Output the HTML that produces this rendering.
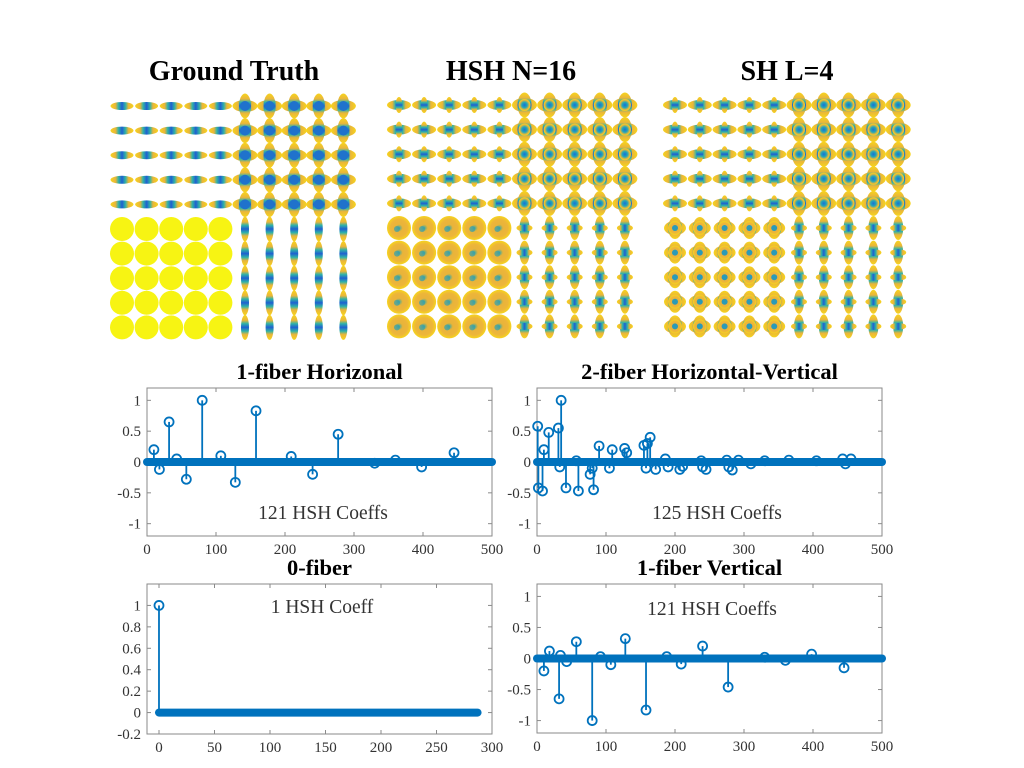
<!DOCTYPE html>
<html><head><meta charset="utf-8"><style>
html,body{margin:0;padding:0;background:#fff;width:1024px;height:768px;overflow:hidden}
svg{display:block}
text{font-family:"Liberation Serif",serif}
</style></head><body>
<svg id="fig" width="1024" height="768" viewBox="0 0 1024 768">
<defs>
<linearGradient id="gh" x1="0" y1="0" x2="1" y2="0"><stop offset="0" stop-color="#f7d51c"/><stop offset="0.22" stop-color="#e9b53a"/><stop offset="0.35" stop-color="#2fb3a8"/><stop offset="0.5" stop-color="#1f5fd0"/><stop offset="0.65" stop-color="#2fb3a8"/><stop offset="0.78" stop-color="#e9b53a"/><stop offset="1" stop-color="#f7d51c"/></linearGradient>
<linearGradient id="gv" x1="0" y1="0" x2="0" y2="1"><stop offset="0" stop-color="#f7d51c"/><stop offset="0.22" stop-color="#e9b53a"/><stop offset="0.35" stop-color="#2fb3a8"/><stop offset="0.5" stop-color="#1f5fd0"/><stop offset="0.65" stop-color="#2fb3a8"/><stop offset="0.78" stop-color="#e9b53a"/><stop offset="1" stop-color="#f7d51c"/></linearGradient>
<radialGradient id="gc"><stop offset="0" stop-color="#1a6fd6"/><stop offset="0.45" stop-color="#22a7b8"/><stop offset="0.8" stop-color="#e6b83a"/><stop offset="1" stop-color="#f7d51c"/></radialGradient>
<radialGradient id="gb"><stop offset="0" stop-color="#3aa8a0"/><stop offset="0.3" stop-color="#e8b43a"/><stop offset="0.7" stop-color="#edb53a"/><stop offset="1" stop-color="#f6d41e"/></radialGradient>
</defs>
<text x="234" y="80" text-anchor="middle" font-size="28" font-weight="bold">Ground Truth</text>
<text x="511" y="80" text-anchor="middle" font-size="28" font-weight="bold">HSH N=16</text>
<text x="787" y="80" text-anchor="middle" font-size="28" font-weight="bold">SH L=4</text>
<g id="glyphs"></g>
<g id="plots"></g>
</svg>
<script>
// ---- stem data ----
const p1x=[10,18,32,43,57,80,107,128,158,209,240,277,330,360,398,445];
const p1y=[0.2,-0.12,0.65,0.05,-0.28,1.0,0.1,-0.33,0.83,0.09,-0.2,0.45,-0.02,0.03,-0.08,0.15];
const p2x=[1,2,8,10,17,31,33,35,42,57,60,77,80,82,90,105,109,127,130,155,158,160,164,172,186,190,207,211,238,240,245,275,278,283,292,310,330,365,405,443,447,455];
const p2y=[0.58,-0.42,-0.47,0.2,0.48,0.55,-0.08,1.0,-0.42,0.02,-0.47,-0.2,-0.1,-0.45,0.26,-0.1,0.2,0.22,0.15,0.27,-0.1,0.3,0.4,-0.12,0.05,-0.08,-0.12,-0.07,0.02,-0.08,-0.12,0.03,-0.08,-0.13,0.03,-0.03,0.02,0.03,0.02,0.05,-0.03,0.05];
const p3x=[0];
const p3y=[1];
const p4x=[10,18,32,34,43,57,80,92,107,128,158,188,209,240,277,330,360,398,445];
const p4y=[-0.2,0.12,-0.65,0.05,-0.05,0.27,-1,0.03,-0.1,0.32,-0.83,0.03,-0.09,0.2,-0.46,0.02,-0.03,0.07,-0.15];
const ticks500=[0,100,200,300,400,500];
const ticks300=[0,50,100,150,200,250,300];
const yt1=[-1,-0.5,0,0.5,1];
const yt3=[-0.2,0,0.2,0.4,0.6,0.8,1];

const NS="http://www.w3.org/2000/svg";
function mk(tag,attrs,parent){const e=document.createElementNS(NS,tag);for(const k in attrs)e.setAttribute(k,attrs[k]);parent.appendChild(e);return e;}
const P=document.getElementById('plots');
const C="#0072BD";

function plot(o){
  const g=mk('g',{},P);
  
  
  const sx=v=>o.x0+(v-o.xmin)/(o.xmax-o.xmin)*(o.x1-o.x0);
  const sy=v=>o.y1-(v-o.ymin)/(o.ymax-o.ymin)*(o.y1-o.y0);
  const t=mk('text',{x:(o.x0+o.x1)/2,y:o.y0-9,'text-anchor':'middle','font-size':22.5,'font-weight':'bold'},g);
  t.textContent=o.title;
  
  
  mk('rect',{x:o.x0,y:o.y0,width:o.x1-o.x0,height:o.y1-o.y0,fill:'none',stroke:'#8a8a8a','stroke-width':1},g);
  o.xt.forEach(v=>{const x=sx(v);
    mk('line',{x1:x,x2:x,y1:o.y1,y2:o.y1-4,stroke:'#8a8a8a'},g);
    mk('line',{x1:x,x2:x,y1:o.y0,y2:o.y0+4,stroke:'#8a8a8a'},g);
    const l=mk('text',{x:x,y:o.y1+18,'text-anchor':'middle','font-size':15,fill:'#333'},g);l.textContent=v;
    
    });
  o.yt.forEach(v=>{const y=sy(v);
    mk('line',{x1:o.x0,x2:o.x0+4,y1:y,y2:y,stroke:'#8a8a8a'},g);
    mk('line',{x1:o.x1,x2:o.x1-4,y1:y,y2:y,stroke:'#8a8a8a'},g);
    const l=mk('text',{x:o.x0-6,y:y+5,'text-anchor':'end','font-size':15,fill:'#333'},g);l.textContent=v;
    
    });
  // zero-valued coefficient band
  const band=mk('line',{x1:sx(0),x2:sx(o.n),y1:sy(0),y2:sy(0),stroke:C,'stroke-width':8,'stroke-linecap':'round'},g);
  
  
  o.xs.forEach((xv,i)=>{const x=sx(xv),y=sy(o.ys[i]);
    mk('line',{x1:x,x2:x,y1:sy(0),y2:y,stroke:C,'stroke-width':1.8},g);
    const c=mk('circle',{cx:x,cy:y,r:4.5,fill:'none',stroke:C,'stroke-width':1.8},g);
    
    });
  const a=mk('text',{x:o.ax,y:o.ay,'text-anchor':'middle','font-size':19.5,fill:'#333'},g);a.textContent=o.note;
  
  
}
plot({name:'plot-1-fiber-horizontal',title:'1-fiber Horizonal',x0:147,x1:492,y0:388,y1:536,xmin:0,xmax:500,ymin:-1.2,ymax:1.2,xt:ticks500,yt:yt1,xs:p1x,ys:p1y,n:500,note:'121 HSH Coeffs',ax:323,ay:519});
plot({name:'plot-2-fiber',title:'2-fiber Horizontal-Vertical',x0:537,x1:882,y0:388,y1:536,xmin:0,xmax:500,ymin:-1.2,ymax:1.2,xt:ticks500,yt:yt1,xs:p2x,ys:p2y,n:500,note:'125 HSH Coeffs',ax:717,ay:519});
plot({name:'plot-0-fiber',title:'0-fiber',x0:147,x1:492,y0:584,y1:734,xmin:-10.8,xmax:300,ymin:-0.2,ymax:1.2,xt:ticks300,yt:yt3,xs:p3x,ys:p3y,n:287,note:'1 HSH Coeff',ax:322,ay:613});
plot({name:'plot-1-fiber-vertical',title:'1-fiber Vertical',x0:537,x1:882,y0:584,y1:733,xmin:0,xmax:500,ymin:-1.2,ymax:1.2,xt:ticks500,yt:yt1,xs:p4x,ys:p4y,n:500,note:'121 HSH Coeffs',ax:712,ay:615});

// ---- glyph grids ----
const G=document.getElementById('glyphs');
function hbar(g,x,y,w,h){mk('ellipse',{cx:x,cy:y,rx:w,ry:h,fill:'url(#gh)'},g);}
function vbar(g,x,y,w,h){mk('ellipse',{cx:x,cy:y,rx:w,ry:h,fill:'url(#gv)'},g);}
function grid(name,cx0,cy0,dx,kind){
  const g=mk('g',{},G);
  
  
  for(let r=0;r<10;r++)for(let c=0;c<10;c++){
    const x=cx0+c*dx,y=cy0+r*24.6;
    const top=r<5,left=c<5;
    if(kind==='gt'){
      if(top&&left){hbar(g,x,y,11.5,4);}
      else if(top&&!left){hbar(g,x,y,12.5,6);vbar(g,x,y,6,12.5);mk('circle',{cx:x,cy:y,r:5,fill:'#1f72cc'},g);}
      else if(!top&&left){mk('circle',{cx:x,cy:y,r:12,fill:'#f7f413'},g);}
      else{vbar(g,x,y,4,12.5);}
    }else{
      if(top&&left){hbar(g,x,y,12,5);vbar(g,x,y,3.5,8);}
      else if(top&&!left){hbar(g,x,y,12.5,7);vbar(g,x,y,7,12.5);mk('circle',{cx:x,cy:y,r:6,fill:'url(#gc)'},g);}
      else if(!top&&left){
        if(kind==='hsh'){mk('circle',{cx:x,cy:y,r:12,fill:'url(#gb)'},g);mk('circle',{cx:x-2,cy:y+1,r:3,fill:'#2f9fb0',opacity:0.7},g);}
        else{hbar(g,x,y,11,7);vbar(g,x,y,7,11);mk('circle',{cx:x,cy:y,r:7,fill:'url(#gb)'},g);mk('circle',{cx:x,cy:y,r:3,fill:'#2a9ab8'},g);}
      }
      else{vbar(g,x,y,5,12);hbar(g,x,y,8,3.5);}
    }
  }
}
grid('ground-truth-grid',122,106,24.6,'gt');
grid('hsh-grid',399,105,25.1,'hsh');
grid('sh-grid',675,105,24.8,'sh');
</script>
</body></html>
